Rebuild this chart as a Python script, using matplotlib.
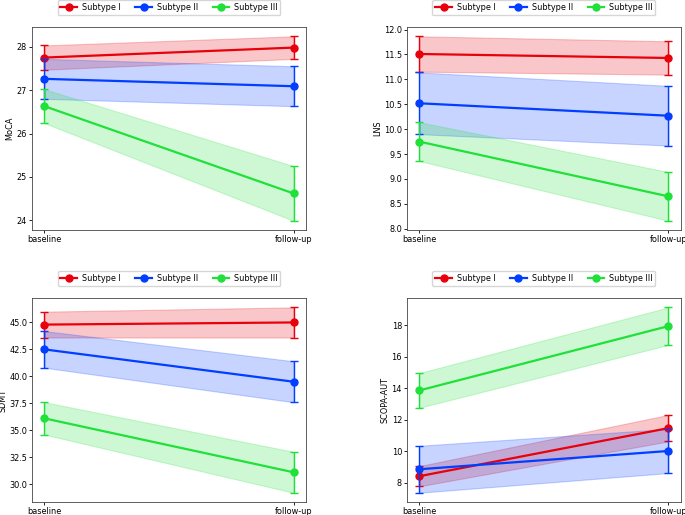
import matplotlib
matplotlib.use('Agg')
import matplotlib.pyplot as plt
import numpy as np

# visits and groups
visits = ['baseline', 'follow-up']
subtypes = ['Subtype I', 'Subtype II', 'Subtype III']
colors = ['#e8000b', '#023eff', '#20e03a']

# mean and error per subtype (baseline, follow-up)
moca_mean = [[27.75, 27.98], [27.26, 27.09], [26.63, 24.62]]
moca_err = [[0.28, 0.26], [0.46, 0.46], [0.39, 0.63]]

lns_mean = [[11.51, 11.43], [10.52, 10.27], [9.75, 8.65]]
lns_err = [[0.355, 0.335], [0.62, 0.60], [0.39, 0.49]]

sdmt_mean = [[44.8, 45.0], [42.5, 39.5], [36.1, 31.1]]
sdmt_err = [[1.2, 1.4], [1.7, 1.9], [1.5, 1.9]]

scopa_mean = [[8.42, 11.47], [8.86, 10.02], [13.86, 17.94]]
scopa_err = [[0.64, 0.84], [1.49, 1.40], [1.10, 1.19]]

panels = [
    ('MoCA', moca_mean, moca_err),
    ('LNS', lns_mean, lns_err),
    ('SDMT', sdmt_mean, sdmt_err),
    ('SCOPA-AUT', scopa_mean, scopa_err),
]

fs = 5.9
fig = plt.figure(figsize=(6.85, 5.15), dpi=100)
positions = [
    [0.0467, 0.5534, 0.4, 0.394],
    [0.594, 0.5534, 0.4, 0.394],
    [0.0467, 0.0252, 0.4, 0.396],
    [0.594, 0.0252, 0.4, 0.396],
]

x = np.arange(len(visits))

for (name, means, errs), pos in zip(panels, positions):
    ax = fig.add_axes(pos)
    for i in range(len(subtypes)):
        m = np.array(means[i])
        e = np.array(errs[i])
        ax.fill_between(x, m - e, m + e, color=colors[i], alpha=0.22, linewidth=0.8)
        ax.plot(x, m, '-o', color=colors[i], label=subtypes[i], linewidth=1.6, markersize=5)
        ax.errorbar(x, m, yerr=e, fmt='none', ecolor=colors[i], elinewidth=1.0, capsize=3, capthick=1.0)
    ax.set_xticks(x)
    ax.set_xticklabels(visits)
    ax.set_ylabel(name, fontsize=fs, labelpad=1.5)
    ax.tick_params(labelsize=fs, length=2, width=0.6, pad=1.5)
    for s in ax.spines.values():
        s.set_linewidth(0.6)
        s.set_color('#444444')
    ax.legend(loc='center', bbox_to_anchor=(0.5, 1.095), ncol=3, fontsize=fs,
              frameon=True, handlelength=2.0, handletextpad=0.6,
              columnspacing=1.8, borderpad=0.35)

plt.savefig('out.png', dpi=100)
